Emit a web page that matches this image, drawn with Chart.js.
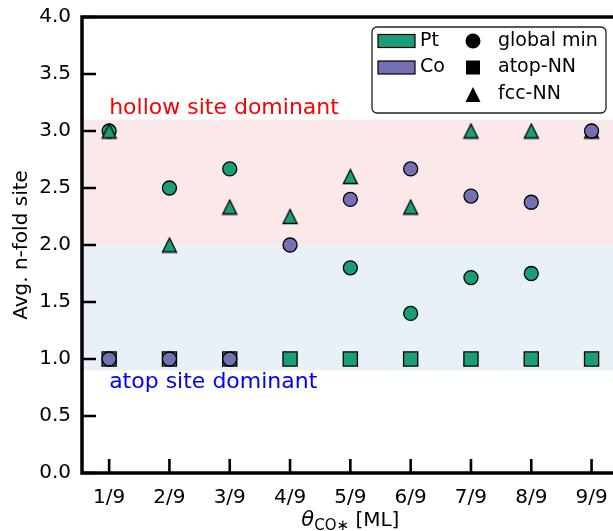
<!DOCTYPE html>
<html>
<head>
<meta charset="utf-8">
<script src="https://cdn.jsdelivr.net/npm/chart.js@4/dist/chart.umd.min.js"></script>
<style>
html, body { margin: 0; padding: 0; background: #fff; overflow: hidden; }
#wrap { width: 630px; height: 531px; }
</style>
</head>
<body>
<div id="wrap"><canvas id="chart" width="630" height="531"></canvas></div>
<script>
// --- données ---
const coverages = ['1/9', '2/9', '3/9', '4/9', '5/9', '6/9', '7/9', '8/9', '9/9'];
const yTickValues = [0, 0.5, 1, 1.5, 2, 2.5, 3, 3.5, 4];

// Pt
const ptGlobalMin = [3.0, 2.5, 2.667, null, 1.8, 1.4, 1.714, 1.75, null];
const ptAtopNN    = [1, 1, 1, 1, 1, 1, 1, 1, 1];
const ptFccNN     = [3.0, 2.0, 2.333, 2.25, 2.6, 2.333, 3.0, 3.0, 3.0];
// Co
const coGlobalMin = [1.0, 1.0, 1.0, 2.0, 2.4, 2.667, 2.429, 2.375, 3.0];

// zones
const hollowBand = [2.0, 3.1];
const atopBand = [0.9, 2.0];

const PT = '#1b9e77';
const CO = '#7570b3';
const FONT = '"DejaVu Sans", sans-serif';

function toPoints(arr) {
    return arr.map((v, i) => ({ x: i + 1, y: v })).filter(p => p.y !== null);
}

// triangle façon matplotlib (hauteur = largeur)
function triangleImg(fill, w) {
    const c = document.createElement('canvas');
    c.width = w + 3; c.height = w + 3;
    const g = c.getContext('2d');
    const o = 1.5;
    g.beginPath();
    g.moveTo(o + w / 2, o);
    g.lineTo(o, o + w);
    g.lineTo(o + w, o + w);
    g.closePath();
    g.fillStyle = fill; g.fill();
    g.lineWidth = 1.3; g.strokeStyle = '#000'; g.stroke();
    return c;
}

// --- bandes + annotations ---
const bandsPlugin = {
    id: 'bands',
    beforeDatasetsDraw(chart) {
        const { ctx, chartArea: a, scales: { x, y } } = chart;
        ctx.save();
        ctx.fillStyle = 'rgba(214,39,40,0.1)';
        ctx.fillRect(a.left, y.getPixelForValue(hollowBand[1]), a.right - a.left,
            y.getPixelForValue(hollowBand[0]) - y.getPixelForValue(hollowBand[1]));
        ctx.fillStyle = 'rgba(31,119,180,0.1)';
        ctx.fillRect(a.left, y.getPixelForValue(atopBand[1]), a.right - a.left,
            y.getPixelForValue(atopBand[0]) - y.getPixelForValue(atopBand[1]));

        ctx.font = '22px ' + FONT;
        ctx.textAlign = 'left';
        ctx.textBaseline = 'alphabetic';
        ctx.fillStyle = '#ff0000';
        ctx.fillText('hollow site dominant', x.getPixelForValue(1.0), y.getPixelForValue(3.15));
        ctx.fillStyle = '#0000ff';
        ctx.fillText('atop site dominant', x.getPixelForValue(1.0), y.getPixelForValue(0.75));
        ctx.restore();
    }
};

// --- cadre, graduations intérieures, titres, légende ---
const framePlugin = {
    id: 'frame',
    afterDraw(chart) {
        const { ctx, chartArea: a, scales: { x, y } } = chart;
        ctx.save();
        ctx.strokeStyle = '#000';
        // graduations
        ctx.lineWidth = 2.6;
        ctx.beginPath();
        yTickValues.forEach(v => {
            const py = y.getPixelForValue(v);
            ctx.moveTo(a.left, py); ctx.lineTo(a.left + 14, py);
        });
        coverages.forEach((c, i) => {
            const px = x.getPixelForValue(i + 1);
            ctx.moveTo(px, a.bottom); ctx.lineTo(px, a.bottom - 14);
        });
        ctx.stroke();
        // cadre
        ctx.lineWidth = 3.5;
        ctx.strokeRect(a.left, a.top, a.right - a.left, a.bottom - a.top);

        // titre axe y
        ctx.fillStyle = '#000';
        ctx.font = '20px ' + FONT;
        ctx.save();
        ctx.translate(27, (a.top + a.bottom) / 2);
        ctx.rotate(-Math.PI / 2);
        ctx.textAlign = 'center';
        ctx.textBaseline = 'alphabetic';
        ctx.fillText('Avg. n-fold site', 0, 0);
        ctx.restore();

        // titre axe x : θ_CO* [ML]
        const base = 526;
        const parts = [
            { t: 'θ', f: 'italic 21px ' + FONT, dy: 0 },
            { t: 'CO∗', f: '15px ' + FONT, dy: 4 },
            { t: ' [ML]', f: '20px ' + FONT, dy: 0 }
        ];
        let total = 0;
        parts.forEach(p => { ctx.font = p.f; p.w = ctx.measureText(p.t).width; total += p.w; });
        let cx = x.getPixelForValue(5) - total / 2;
        ctx.textAlign = 'left';
        parts.forEach(p => { ctx.font = p.f; ctx.fillText(p.t, cx, base + p.dy); cx += p.w; });

        // légende
        const lx = 372, ly = 27, lw = 234, lh = 86;
        ctx.beginPath();
        ctx.roundRect(lx, ly, lw, lh, 5);
        ctx.fillStyle = '#fff';
        ctx.fill();
        ctx.lineWidth = 1.3;
        ctx.strokeStyle = '#222';
        ctx.stroke();

        const rows = [41, 67.5, 94.5];
        ctx.lineWidth = 1.2;
        [[PT, 'Pt'], [CO, 'Co']].forEach(([col, lab], i) => {
            ctx.fillStyle = col;
            ctx.fillRect(378, rows[i] - 6.5, 37, 13);
            ctx.strokeStyle = '#000';
            ctx.strokeRect(378, rows[i] - 6.5, 37, 13);
        });
        ctx.fillStyle = '#000';
        ctx.beginPath(); ctx.arc(473, rows[0], 7.5, 0, Math.PI * 2); ctx.fill();
        ctx.fillRect(466, rows[1] - 7, 14, 14);
        ctx.beginPath();
        ctx.moveTo(473, rows[2] - 7.5); ctx.lineTo(465.5, rows[2] + 7.5); ctx.lineTo(480.5, rows[2] + 7.5);
        ctx.closePath(); ctx.fill();

        ctx.font = '19px ' + FONT;
        ctx.textBaseline = 'middle';
        ctx.fillText('Pt', 420, rows[0]);
        ctx.fillText('Co', 420, rows[1]);
        ctx.fillText('global min', 498, rows[0]);
        ctx.fillText('atop-NN', 498, rows[1]);
        ctx.fillText('fcc-NN', 498, rows[2]);
        ctx.restore();
    }
};

const marker = { borderColor: '#000', borderWidth: 1.3 };

new Chart(document.getElementById('chart'), {
    type: 'scatter',
    data: {
        datasets: [
            { label: 'Co global min', data: toPoints(coGlobalMin), backgroundColor: CO, pointStyle: 'circle', pointRadius: 7, order: 0, ...marker },
            { label: 'Pt fcc-NN', data: toPoints(ptFccNN), pointStyle: triangleImg(PT, 14), order: 1 },
            { label: 'Pt global min', data: toPoints(ptGlobalMin), backgroundColor: PT, pointStyle: 'circle', pointRadius: 7, order: 2, ...marker },
            { label: 'Pt atop-NN', data: toPoints(ptAtopNN), backgroundColor: PT, pointStyle: 'rect', pointRadius: 10, order: 3, ...marker }
        ]
    },
    options: {
        responsive: false,
        animation: false,
        devicePixelRatio: 1,
        layout: { padding: { left: 0, top: 17, right: 9, bottom: 0 } },
        plugins: { legend: { display: false }, tooltip: { enabled: false } },
        scales: {
            x: {
                type: 'linear',
                min: 0.55,
                max: 9.45,
                grid: { display: false, drawTicks: false },
                border: { display: false },
                afterBuildTicks: s => { s.ticks = coverages.map((c, i) => ({ value: i + 1 })); },
                afterFit: s => { s.height = 58; s.paddingLeft = 0; s.paddingRight = 0; },
                ticks: {
                    padding: 13,
                    color: '#000',
                    font: { family: FONT, size: 20 },
                    callback: v => coverages[v - 1]
                }
            },
            y: {
                min: 0,
                max: 4,
                grid: { display: false, drawTicks: false },
                border: { display: false },
                afterBuildTicks: s => { s.ticks = yTickValues.map(v => ({ value: v })); },
                afterFit: s => { s.width = 82; s.paddingTop = 0; s.paddingBottom = 0; },
                ticks: {
                    padding: 11,
                    color: '#000',
                    font: { family: FONT, size: 20 },
                    callback: v => v.toFixed(1)
                }
            }
        }
    },
    plugins: [bandsPlugin, framePlugin]
});
</script>
</body>
</html>
